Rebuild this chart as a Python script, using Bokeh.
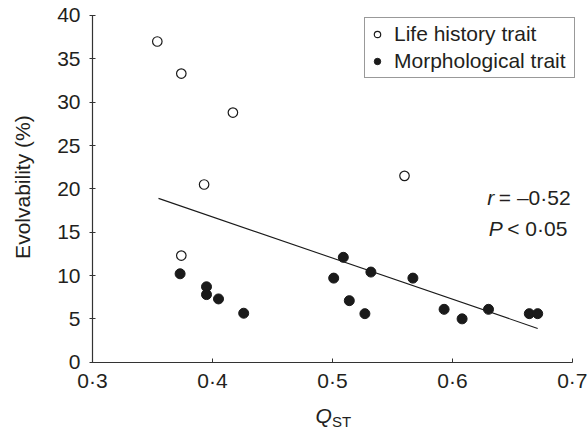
import math
from bokeh.plotting import figure
from bokeh.models import (Range1d, FixedTicker, CustomJSTickFormatter, Label,
                          Legend, LegendItem)
from bokeh.embed import file_html
from bokeh.resources import INLINE

# ---- data ----
life_qst = [0.354, 0.374, 0.417, 0.393, 0.374, 0.560]
life_evo = [37.0, 33.3, 28.8, 20.5, 12.3, 21.5]

morph_qst = [0.373, 0.395, 0.395, 0.405, 0.426, 0.501, 0.509, 0.514, 0.527,
             0.532, 0.567, 0.593, 0.608, 0.630, 0.664, 0.671]
morph_evo = [10.2, 8.7, 7.8, 7.3, 5.65, 9.7, 12.1, 7.1, 5.6,
             10.4, 9.7, 6.1, 5.0, 6.1, 5.6, 5.6]

fit_qst = [0.355, 0.671]
fit_evo = [18.9, 3.9]

x_ticks = [0.3, 0.4, 0.5, 0.6, 0.7]
y_ticks = [0, 5, 10, 15, 20, 25, 30, 35, 40]

stat_r = "= \u20130\u00b752"
stat_p = "< 0\u00b705"

TXT = "#231f20"
AX = "#333333"
FONT = "Liberation Sans"

# The frame covers the whole canvas; both axes are pinned at the data origin
# (0.3, 0) and limited to the data bounds, so every text sits inside the frame.
p = figure(width=587, height=430, output_backend="svg", toolbar_location=None,
           x_range=Range1d(0.22333, 0.7125), y_range=Range1d(-7.88, 41.73),
           min_border_left=0, min_border_right=0, min_border_top=0,
           min_border_bottom=0)
p.grid.visible = False
p.outline_line_color = None
p.background_fill_color = "white"
p.border_fill_color = "white"

# axes
p.xaxis.fixed_location = 0
p.yaxis.fixed_location = 0.3
p.xaxis.bounds = (0.3, 0.7)
p.yaxis.bounds = (0, 40)
p.xaxis.ticker = FixedTicker(ticks=x_ticks)
p.yaxis.ticker = FixedTicker(ticks=y_ticks)
p.xaxis.formatter = CustomJSTickFormatter(code="return tick.toFixed(1).replace('.', '\u00b7');")
for ax in (p.xaxis[0], p.yaxis[0]):
    ax.axis_line_color = AX
    ax.axis_line_width = 1.2
    ax.major_tick_line_color = AX
    ax.minor_tick_line_color = None
    ax.major_label_text_font = FONT
    ax.major_label_text_font_size = "21px"
    ax.major_label_text_color = TXT
p.xaxis.major_tick_in = 4
p.xaxis.major_tick_out = 0
p.xaxis.major_label_standoff = 7
p.yaxis.major_tick_in = 3
p.yaxis.major_tick_out = 3
p.yaxis.major_label_standoff = 9

# regression line
p.line(fit_qst, fit_evo, line_color="#1a1a1a", line_width=1.1)

# points
r_life = p.scatter(life_qst, life_evo, marker="circle", size=9.5,
                   fill_color="white", line_color="#1a1a1a", line_width=1.2)
r_morph = p.scatter(morph_qst, morph_evo, marker="circle", size=10,
                    fill_color="#1a1a1a", line_color="#1a1a1a", line_width=1)

legend = Legend(items=[LegendItem(label="Life history trait", renderers=[r_life]),
                       LegendItem(label="Morphological trait", renderers=[r_morph])],
                location=(364, 352))
legend.label_text_font = FONT
legend.label_text_font_size = "21px"
legend.label_text_color = TXT
legend.border_line_color = AX
legend.border_line_width = 1.2
legend.background_fill_alpha = 1
legend.padding = 4
legend.spacing = 3
legend.margin = 0
legend.glyph_width = 16
legend.glyph_height = 24
legend.label_height = 24
legend.label_width = 176
legend.label_standoff = 9
p.add_layout(legend, "center")

def lab(x, y, t, size="21px", style="normal", align="left", angle=0.0):
    p.add_layout(Label(x=x, y=y, text=t, text_font=FONT, text_font_size=size,
                       text_font_style=style, text_color=TXT, angle=angle,
                       text_align=align, text_baseline="middle"))

# statistics text
lab(0.6289, 18.95, "r", style="italic")
lab(0.6386, 18.95, stat_r)
lab(0.6303, 15.48, "P", style="italic")
lab(0.6456, 15.48, stat_p)

# axis titles
lab(0.2417, 20.2, "Evolvability (%)", align="center", angle=math.pi / 2)
lab(0.4858, -6.15, "Q", style="italic")
lab(0.4995, -6.8, "ST", size="15px")

open("out.html", "w").write(file_html(p, INLINE))
